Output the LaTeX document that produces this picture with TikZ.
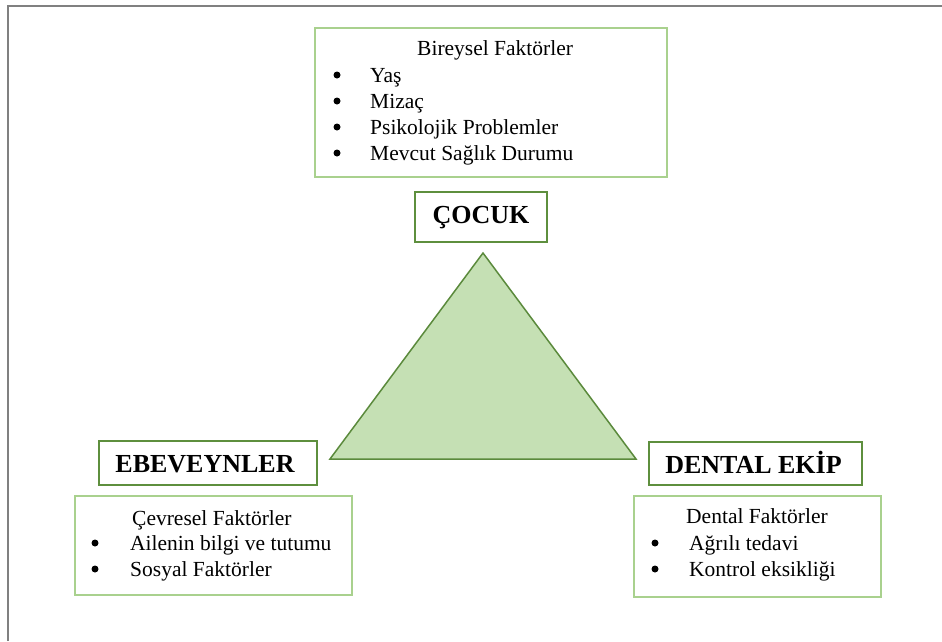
\documentclass[tikz,border=0pt]{standalone}
\usepackage{fontspec}
\setmainfont{Liberation Serif}
\definecolor{lightbox}{HTML}{A9D18E}
\definecolor{darkbox}{HTML}{5E8F3E}
\definecolor{trifill}{HTML}{C5E0B4}
\definecolor{tristroke}{HTML}{5B8A3C}
\definecolor{framegray}{HTML}{808080}
\tikzset{
  factorbox/.style={draw=lightbox, line width=1.5pt, inner sep=0pt},
  titlebox/.style={draw=darkbox, line width=2pt, inner sep=0pt},
  titletext/.style={inner sep=0pt, anchor=base, font=\fontsize{26}{30}\selectfont\bfseries},
  bodytext/.style={inner sep=0pt, anchor=base west, font=\fontsize{21.5}{25}\selectfont},
  bul/.style={circle, fill=black, inner sep=0pt, minimum size=7pt, yshift=7pt}
}
\begin{document}
\begin{tikzpicture}[x=1pt, y=-1pt]
\useasboundingbox (0,0) rectangle (942,641);
% outer frame (partially visible)
\draw[framegray, line width=2.2pt] (8,641) -- (8,6) -- (942,6);

% boxes
\node[factorbox, minimum width=352pt, minimum height=149pt] (bireysel) at (491,102.5) {};
\node[titlebox, minimum width=132pt, minimum height=50pt] (cocuk) at (481,217) {};
\node[titlebox, minimum width=218pt, minimum height=44pt] (ebeveyn) at (208,463) {};
\node[factorbox, minimum width=277pt, minimum height=99pt] (cevresel) at (213.5,545.5) {};
\node[titlebox, minimum width=213pt, minimum height=43pt] (dental) at (755.5,463.5) {};
\node[factorbox, minimum width=247pt, minimum height=101pt] (dentalf) at (757.5,546.5) {};

% triangle
\coordinate (apex) at (483,253);
\coordinate (bl) at (330,459);
\coordinate (br) at (636,459);
\draw[fill=trifill, draw=tristroke, line width=1.5pt, line join=miter] (apex) -- (bl) -- (br) -- cycle;

% titles
\node[titletext] (tcocuk) at (481,223) {ÇOCUK};
\node[titletext] (tebeveyn) at (205,472) {EBEVEYNLER};
\node[titletext] (tdental) at (753.5,473) {DENTAL EKİP};

% top box text
\node[bodytext] (h1) at (417,55) {Bireysel Faktörler};
\node[bul] (b11) at (337,82) {};
\node[bul] (b12) at (337,108) {};
\node[bul] (b13) at (337,134) {};
\node[bul] (b14) at (337,160) {};
\node[bodytext] (t11) at (370,82) {Yaş};
\node[bodytext] (t12) at (370,108) {Mizaç};
\node[bodytext] (t13) at (370,134) {Psikolojik Problemler};
\node[bodytext] (t14) at (370,160) {Mevcut Sağlık Durumu};

% bottom-left text
\node[bodytext] (h2) at (132,525) {Çevresel Faktörler};
\node[bul] (b21) at (95,550) {};
\node[bul] (b22) at (95,576) {};
\node[bodytext] (t21) at (130,550) {Ailenin bilgi ve tutumu};
\node[bodytext] (t22) at (130,576) {Sosyal Faktörler};

% bottom-right text
\node[bodytext] (h3) at (686,523) {Dental Faktörler};
\node[bul] (b31) at (655,550) {};
\node[bul] (b32) at (655,576) {};
\node[bodytext] (t31) at (689,550) {Ağrılı tedavi};
\node[bodytext] (t32) at (689,576) {Kontrol eksikliği};
\end{tikzpicture}
\end{document}
